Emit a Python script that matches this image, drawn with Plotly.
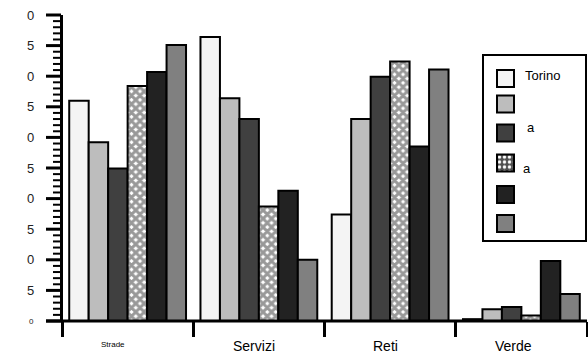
import base64
import plotly.graph_objects as go

# Category and series data
categories = ["Strade", "Servizi", "Reti", "Verde"]
series_names = ["Torino", "", "a", "a", "", ""]
torino = [36.0, 46.4, 17.4, 0.3]
serie_2 = [29.2, 36.4, 33.0, 1.9]
serie_3 = [24.9, 33.0, 39.9, 2.3]
serie_4 = [38.4, 18.7, 42.4, 0.9]
serie_5 = [40.7, 21.3, 28.5, 9.8]
serie_6 = [45.1, 10.0, 41.1, 4.4]

y_range = [0, 50]
y_tickvals = [0, 5, 10, 15, 20, 25, 30, 35, 40, 45, 50]
y_ticktext = ["0", "5", "0", "5", "0", "5", "0", "5", "0", "5", "0"]
y_ticksize = [8, 13, 13, 13, 13, 13, 13, 13, 13, 13, 13]
y_minorvals = [v for v in range(0, 51) if v % 5]

fills = ["#f4f4f4", "#bdbdbd", "#404040", "#ffffff", "#222222", "#808080"]
values = [torino, serie_2, serie_3, serie_4, serie_5, serie_6]

# canvas and plotting frame (the value axis is drawn inside the frame)
W, H = 588, 353
T, B, R = 15, 32, 1
PW, PH = W - R, H - T - B
AXIS_PX = 62                      # pixel column of the value axis
CAT_W = (PW - AXIS_PX) / len(categories)
x_range = [-0.5 - AXIS_PX / CAT_W, len(categories) - 0.5]


def px_x(x):
    return x / PW


def px_y(y):
    return (H - B - y) / PH


def val_y(v):
    return (v - y_range[0]) / (y_range[1] - y_range[0])


FONT = "Liberation Sans, Arial, sans-serif"

fig = go.Figure()
for i, (name, vals, col) in enumerate(zip(series_names, values, fills)):
    marker = dict(color=col, line=dict(color="black", width=2))
    if i == 3:
        marker["pattern"] = dict(shape="x", fgcolor="#333333", bgcolor="#ffffff",
                                 size=6, solidity=0.75)
    fig.add_trace(go.Bar(x=categories, y=vals, name=name, marker=marker,
                         showlegend=False))

shapes = []
annotations = []
images = []

# value axis: line, long ticks at labelled values, short ticks at every unit
shapes.append(dict(type="line", xref="paper", yref="paper",
                   x0=px_x(AXIS_PX - 0.5), x1=px_x(AXIS_PX - 0.5), y0=0, y1=1,
                   line=dict(color="black", width=3)))
for v, t, fs in zip(y_tickvals, y_ticktext, y_ticksize):
    shapes.append(dict(type="line", xref="paper", yref="paper",
                       x0=px_x(AXIS_PX - 16), x1=px_x(AXIS_PX - 1),
                       y0=val_y(v), y1=val_y(v),
                       line=dict(color="black", width=3)))
    annotations.append(dict(text=t, xref="paper", yref="paper",
                            x=px_x(AXIS_PX - 26), y=val_y(v),
                            xanchor="right", yanchor="middle", showarrow=False,
                            font=dict(family=FONT, size=fs, color="#222222")))
for v in y_minorvals:
    shapes.append(dict(type="line", xref="paper", yref="paper",
                       x0=px_x(AXIS_PX - 9), x1=px_x(AXIS_PX - 1),
                       y0=val_y(v), y1=val_y(v),
                       line=dict(color="black", width=2)))

# category axis line
shapes.append(dict(type="line", xref="paper", yref="paper",
                   x0=px_x(AXIS_PX - 16), x1=1, y0=0, y1=0,
                   line=dict(color="black", width=3)))

# legend frame (transparent fill so the swatch image stays visible)
shapes.append(dict(type="rect", xref="paper", yref="paper",
                   x0=px_x(483), x1=px_x(586), y0=px_y(241), y1=px_y(55),
                   line=dict(color="black", width=2), fillcolor="rgba(0,0,0,0)"))

sw_centers = [78.5, 104, 133, 163, 194.5, 223.5]
sw = 17
for i, cy in enumerate(sw_centers):
    x0, x1 = 497, 497 + sw
    y0, y1 = cy - sw / 2, cy + sw / 2
    if i == 3:
        svg = ("<svg xmlns='http://www.w3.org/2000/svg' width='17' height='17'>"
               "<defs><pattern id='p' width='5' height='5' patternUnits='userSpaceOnUse'>"
               "<rect width='5' height='5' fill='#505050'/>"
               "<circle cx='2.5' cy='2.5' r='1.7' fill='white'/></pattern></defs>"
               "<rect width='17' height='17' fill='url(#p)'/></svg>")
        src = "data:image/svg+xml;base64," + base64.b64encode(svg.encode()).decode()
        images.append(dict(source=src, xref="paper", yref="paper",
                           x=px_x(x0), y=px_y(y0), sizex=px_x(x1) - px_x(x0),
                           sizey=px_y(y0) - px_y(y1), xanchor="left", yanchor="top",
                           sizing="stretch", layer="above"))
        shapes.append(dict(type="rect", xref="paper", yref="paper",
                           x0=px_x(x0), x1=px_x(x1), y0=px_y(y1), y1=px_y(y0),
                           line=dict(color="black", width=2),
                           fillcolor="rgba(0,0,0,0)"))
    else:
        shapes.append(dict(type="rect", xref="paper", yref="paper",
                           x0=px_x(x0), x1=px_x(x1), y0=px_y(y1), y1=px_y(y0),
                           line=dict(color="black", width=2), fillcolor=fills[i]))

legend_text = [("Torino", 523, 76), ("a", 525, 127), ("a", 521, 168)]
for txt, x, y in legend_text:
    annotations.append(dict(text=txt, xref="paper", yref="paper", x=px_x(x), y=px_y(y),
                            xanchor="left", yanchor="middle", showarrow=False,
                            font=dict(family=FONT, size=13, color="black")))

# category labels under the axis
cat_fonts = [8, 14, 14, 14]
cat_shift = [-15, -5, -5, -8]
cat_y = [344, 346, 346, 346]
for c, fs, sh, yy in zip(categories, cat_fonts, cat_shift, cat_y):
    annotations.append(dict(text=c, xref="x", yref="paper", x=c, y=px_y(yy),
                            xanchor="center", yanchor="middle", xshift=sh,
                            showarrow=False,
                            font=dict(family=FONT, size=fs, color="black")))

fig.update_layout(
    width=W, height=H,
    margin=dict(l=0, r=R, t=T, b=B, pad=0),
    paper_bgcolor="white", plot_bgcolor="white",
    barmode="group", bargap=0.11, bargroupgap=0,
    dragmode=False, hovermode=False,
    shapes=shapes, annotations=annotations, images=images,
    font=dict(family=FONT, color="#222222"),
    xaxis=dict(type="category", categoryorder="array", categoryarray=categories,
               tickson="boundaries", ticks="outside", ticklen=15,
               tickwidth=3, tickcolor="black", showline=False,
               showticklabels=False, showgrid=False, zeroline=False,
               range=x_range, fixedrange=True),
    yaxis=dict(range=y_range, showline=False, showticklabels=False, ticks="",
               showgrid=False, zeroline=False, fixedrange=True),
)

fig.write_html("out.html")
